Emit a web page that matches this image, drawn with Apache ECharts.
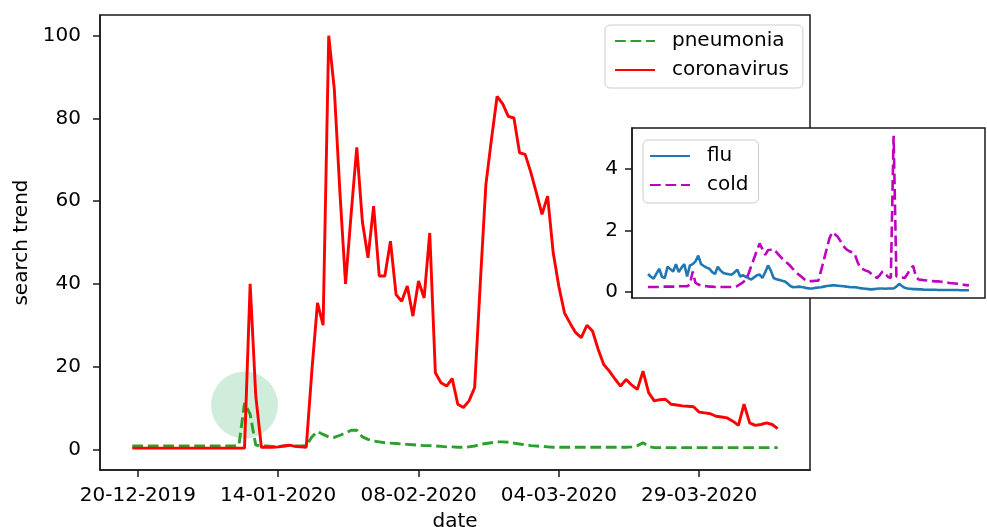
<!DOCTYPE html>
<html>
<head>
<meta charset="utf-8">
<script src="https://cdn.jsdelivr.net/npm/echarts@6/dist/echarts.min.js"></script>
<style>
  html, body { margin: 0; padding: 0; background: #fff; }
  #chart { width: 987px; height: 527px; }
</style>
</head>
<body>
<div id="chart"></div>
<script>
// Daily search interest from 19-12-2019 to 12-04-2020.
// x values are day offsets, day 0 = 20-12-2019.
const firstDay = -1;
const tickDays = [0, 25, 50, 75, 100];
const tickLabels = ['20-12-2019', '14-01-2020', '08-02-2020', '04-03-2020', '29-03-2020'];
const mainYTicks = [0, 20, 40, 60, 80, 100];
const insetYTicks = [0, 2, 4];

const pneumonia = [
  0.8, 0.8, 0.8, 0.8, 0.8, 0.8, 0.8, 0.8, 0.8, 0.8,
  0.8, 0.8, 0.8, 0.8, 0.8, 0.8, 0.8, 0.8, 0.8,
  1.0, 11.2, 8.5, 1.0,
  0.8, 0.8, 0.7, 0.7, 0.8, 0.9, 0.8, 0.8,
  0.9, 3.0, 4.3, 3.6, 3.0, 2.9, 3.4, 3.9, 4.6, 4.6,
  3.0, 2.4, 2.0, 1.8, 1.6, 1.5, 1.4, 1.3, 1.2, 1.1,
  1.0, 0.9, 0.9, 0.8, 0.7, 0.6, 0.6, 0.5, 0.5, 0.6,
  0.8, 1.2, 1.4, 1.6, 1.8, 1.8, 1.7, 1.5, 1.3, 1.1,
  0.9, 0.8, 0.7,
  0.6, 0.5, 0.5, 0.5, 0.5, 0.5, 0.5, 0.5, 0.5, 0.5, 0.5, 0.5, 0.5, 0.5, 0.5, 0.6,
  0.9, 1.6, 0.7,
  0.4, 0.4, 0.4, 0.4, 0.4, 0.4, 0.4, 0.4, 0.4, 0.4, 0.4, 0.4,
  0.4, 0.4, 0.4, 0.4, 0.4, 0.4, 0.4, 0.4, 0.4, 0.4, 0.4
];

const coronavirus = [
  0.3, 0.3, 0.3, 0.3, 0.3, 0.3, 0.3, 0.3, 0.3, 0.3, 0.3,
  0.3, 0.3, 0.3, 0.3, 0.3, 0.3, 0.3, 0.3, 0.3, 0.3,
  40, 13, 0.5, 0.5, 0.5, 0.6, 0.8, 1.0, 0.7, 0.6,
  0.5, 19, 35.4, 30, 100, 87, 62, 40, 57, 73,
  55, 46.3, 58.8, 41.9, 41.9, 50.3, 37.4, 35.8, 39.5, 32.2,
  40.7, 36.6, 52.3, 18.5, 16.1, 15.3, 17.1, 10.9, 10.1, 11.7,
  14.9, 40, 64, 75, 85.3, 83.5, 80.5, 80.1, 71.7, 71.3,
  67, 62, 56.8, 61.2, 47.5, 39.4, 33, 30.5, 28.2, 27,
  30, 28.6, 24.2, 20.5, 18.9, 17, 15.3, 16.9, 15.5, 14.5,
  18.9, 13.7, 11.7, 12, 12.1, 10.9, 10.7, 10.5, 10.4, 10.3,
  9, 8.8, 8.6, 8, 7.8, 7.6, 6.8, 5.8, 10.9, 6.4,
  5.8, 6, 6.4, 6, 5
];

const flu = [
  0.59, 0.5, 0.44, 0.6, 0.76, 0.5, 0.46, 0.83, 0.75, 0.67,
  0.91, 0.65, 0.8, 0.91, 0.51, 0.87, 0.91, 1.0, 1.19, 0.91,
  0.85, 0.8, 0.76, 0.65, 0.59, 0.83, 0.7, 0.62, 0.6, 0.58,
  0.57, 0.65, 0.73, 0.51, 0.55, 0.5, 0.46, 0.41, 0.48, 0.55,
  0.57, 0.46, 0.65, 0.87, 0.7, 0.46, 0.42, 0.4, 0.37, 0.35,
  0.28, 0.2, 0.16, 0.17, 0.18, 0.17, 0.15, 0.13, 0.12, 0.12,
  0.14, 0.15, 0.16, 0.18, 0.2, 0.21, 0.22, 0.22, 0.21, 0.2,
  0.19, 0.18, 0.17, 0.16, 0.16, 0.15, 0.13, 0.12, 0.11, 0.1,
  0.09, 0.1, 0.11, 0.12, 0.12, 0.11, 0.12, 0.12, 0.12, 0.18,
  0.27, 0.2, 0.14, 0.12, 0.11, 0.1, 0.1, 0.09, 0.09,
  0.08, 0.08, 0.08, 0.08, 0.08, 0.07, 0.07, 0.07, 0.07, 0.07,
  0.07, 0.07, 0.07, 0.06, 0.06, 0.06, 0.06
];

const cold = [
  0.17, 0.17, 0.17, 0.17, 0.17, 0.18, 0.18, 0.18, 0.18, 0.18,
  0.18, 0.19, 0.19, 0.19, 0.19,
  0.25, 0.67, 0.3, 0.25,
  0.22, 0.2, 0.19, 0.18, 0.18, 0.17, 0.17, 0.17, 0.17, 0.17, 0.17, 0.17,
  0.17, 0.2, 0.26, 0.32, 0.4, 0.6, 0.85, 1.1, 1.35, 1.58,
  1.4, 1.21, 1.37, 1.38, 1.4, 1.3, 1.2, 1.1, 1.0, 0.94,
  0.85, 0.75, 0.65, 0.57, 0.5, 0.42, 0.35, 0.36, 0.36, 0.37,
  0.37, 0.7, 1.05, 1.4, 1.75, 1.95, 1.88, 1.8, 1.65, 1.5,
  1.4, 1.34, 1.3, 1.26, 1.0, 0.8, 0.75, 0.7, 0.67, 0.6,
  0.53, 0.46, 0.55, 0.67, 0.6, 0.5, 0.46, 5.09, 0.51, 0.5,
  0.48, 0.46, 0.6, 0.75, 0.86, 0.5, 0.41,
  0.4, 0.39, 0.38, 0.37, 0.36, 0.35, 0.35, 0.34, 0.33, 0.32,
  0.3, 0.29, 0.28, 0.27, 0.25, 0.24, 0.23, 0.22
];

// Highlighted early pneumonia bump
const highlightDay = [19];
const highlightValue = [10.7];

const FONT = 'DejaVu Sans';
const FS = 20;
const INK = '#000';
const SPINE = '#1a1a1a';
const DASH = [10.8, 4.7];

const toPairs = arr => arr.map((v, i) => [firstDay + i, v]);
const xMin = firstDay - 0.05 * 115;
const xMax = firstDay + 115 + 0.05 * 115;

const chart = echarts.init(document.getElementById('chart'), null, { renderer: 'canvas' });

const legendBase = {
  orient: 'vertical',
  itemWidth: 40,
  itemHeight: 14,
  itemGap: 7,
  selectedMode: false,
  backgroundColor: 'rgba(255,255,255,0.8)',
  borderColor: '#cccccc',
  borderWidth: 1,
  borderRadius: 5,
  z: 30,
  itemStyle: { opacity: 0 },
  textStyle: { fontFamily: FONT, fontSize: FS, color: INK, lineHeight: 22, padding: [0, 0, 0, 12] }
};

const spineStyle = { color: SPINE, width: 1.5 };

chart.setOption({
  animation: false,
  backgroundColor: '#fff',
  grid: [
    { left: 100, top: 15, width: 710, height: 455, outerBoundsMode: 'none', containLabel: false,
      show: true, borderColor: SPINE, borderWidth: 1.5, backgroundColor: 'transparent', z: 0 },
    { left: 632, top: 128, width: 353, height: 170, outerBoundsMode: 'none', containLabel: false,
      show: true, borderColor: SPINE, borderWidth: 1.5, backgroundColor: '#fff', z: 10 }
  ],
  legend: [
    Object.assign({}, legendBase, { data: ['pneumonia', 'coronavirus'], left: 605, top: 25, padding: [5, 14, 7, 9] }),
    Object.assign({}, legendBase, { data: ['flu', 'cold'], left: 643, top: 140, padding: [5, 10, 7, 6] })
  ],
  xAxis: [
    {
      type: 'value', gridIndex: 0, min: xMin, max: xMax, position: 'bottom',
      name: 'date', nameLocation: 'middle', nameGap: 42,
      nameTextStyle: { fontFamily: FONT, fontSize: FS, color: INK },
      axisLine: { show: true, onZero: false, lineStyle: spineStyle },
      splitLine: { show: false },
      axisTick: { show: true, length: 7, customValues: tickDays, lineStyle: spineStyle },
      axisLabel: {
        show: true, margin: 16, customValues: tickDays,
        fontFamily: FONT, fontSize: FS, color: INK,
        formatter: v => tickLabels[tickDays.indexOf(Math.round(v))] || ''
      }
    },
    {
      type: 'value', gridIndex: 1, min: xMin, max: xMax, show: false,
      axisLine: { onZero: false }
    }
  ],
  yAxis: [
    {
      type: 'value', gridIndex: 0, min: -5, max: 105, position: 'left',
      name: 'search trend', nameLocation: 'middle', nameGap: 68, nameRotate: 90,
      nameTextStyle: { fontFamily: FONT, fontSize: FS, color: INK },
      axisLine: { show: true, onZero: false, lineStyle: spineStyle },
      splitLine: { show: false },
      axisTick: { show: true, length: 7, customValues: mainYTicks, lineStyle: spineStyle },
      axisLabel: { show: true, margin: 19, customValues: mainYTicks, padding: [4, 0, 0, 0], fontFamily: FONT, fontSize: FS, color: INK }
    },
    {
      type: 'value', gridIndex: 1, min: -0.19, max: 5.34, position: 'left', z: 11,
      axisLine: { show: true, onZero: false, lineStyle: spineStyle },
      splitLine: { show: false },
      axisTick: { show: true, length: 7, customValues: insetYTicks, lineStyle: spineStyle },
      axisLabel: { show: true, margin: 14, customValues: insetYTicks, padding: [6, 0, 0, 0], fontFamily: FONT, fontSize: FS, color: INK }
    }
  ],
  series: [
    {
      name: 'highlight', type: 'scatter', xAxisIndex: 0, yAxisIndex: 0,
      data: highlightDay.map((d, i) => [d, highlightValue[i]]),
      symbol: 'circle', symbolSize: 67, silent: true, z: 1,
      itemStyle: { color: 'rgba(60,179,113,0.3)' }
    },
    {
      name: 'pneumonia', type: 'line', xAxisIndex: 0, yAxisIndex: 0,
      data: toPairs(pneumonia), symbol: 'none', z: 3,
      color: '#2ca02c',
      lineStyle: { color: '#2ca02c', width: 2.9, type: DASH }
    },
    {
      name: 'coronavirus', type: 'line', xAxisIndex: 0, yAxisIndex: 0,
      data: toPairs(coronavirus), symbol: 'none', z: 4,
      color: '#ff0000',
      lineStyle: { color: '#ff0000', width: 2.9 }
    },
    {
      name: 'flu', type: 'line', xAxisIndex: 1, yAxisIndex: 1,
      data: toPairs(flu), symbol: 'none', z: 12,
      color: '#1f77b4',
      lineStyle: { color: '#1f77b4', width: 2.6 }
    },
    {
      name: 'cold', type: 'line', xAxisIndex: 1, yAxisIndex: 1,
      data: toPairs(cold), symbol: 'none', z: 13,
      color: '#bf00bf',
      lineStyle: { color: '#bf00bf', width: 2.6, type: DASH }
    }
  ]
});
</script>
</body>
</html>
